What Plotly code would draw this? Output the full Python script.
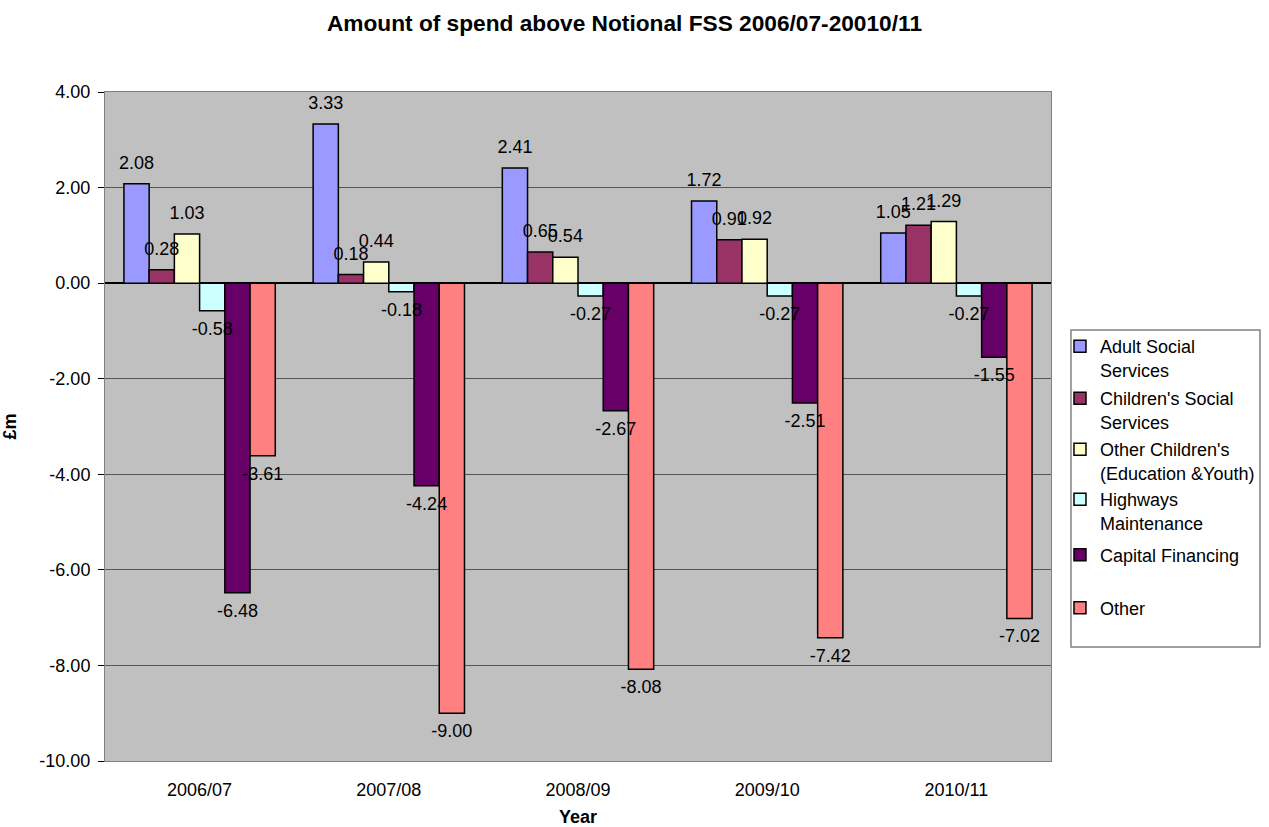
import plotly.graph_objects as go

years = ["2006/07", "2007/08", "2008/09", "2009/10", "2010/11"]
series_names = [
    "Adult Social<br>Services",
    "Children's Social<br>Services",
    "Other Children's<br>(Education &Youth)",
    "Highways<br>Maintenance",
    "Capital Financing",
    "Other",
]
adult = [2.08, 3.33, 2.41, 1.72, 1.05]
children_ss = [0.28, 0.18, 0.65, 0.91, 1.21]
other_children = [1.03, 0.44, 0.54, 0.92, 1.29]
highways = [-0.58, -0.18, -0.27, -0.27, -0.27]
capital = [-6.48, -4.24, -2.67, -2.51, -1.55]
other = [-3.61, -9.00, -8.08, -7.42, -7.02]
values = [adult, children_ss, other_children, highways, capital, other]
colors = ["#9999FF", "#993366", "#FFFFCC", "#CCFFFF", "#660066", "#FF8080"]
y_ticks = [4, 2, 0, -2, -4, -6, -8, -10]
y_ticktext = [f"{v:.2f}" for v in y_ticks]

FONT = "Arial, Liberation Sans, sans-serif"
BARGAP = 0.20

# legend item vertical centres (paper fraction) - one legend per entry
legend_y = [0.6024, 0.5247, 0.4484, 0.3737, 0.3079, 0.2287]
legend_ids = ["legend", "legend2", "legend3", "legend4", "legend5", "legend6"]

fig = go.Figure()
for i, (name, vals, col) in enumerate(zip(series_names, values, colors)):
    fig.add_trace(go.Bar(
        x=years, y=vals, name=name,
        offsetgroup=str(i),
        legend=legend_ids[i],
        marker=dict(color=col, line=dict(color="black", width=1.5)),
        hoverinfo="x+y",
    ))
for i, vals in enumerate(values):
    fig.add_trace(go.Scatter(
        x=years, y=vals, mode="markers+text",
        offsetgroup=str(i),
        marker=dict(size=15, color="rgba(0,0,0,0)"),
        text=[f"{v:.2f}" for v in vals],
        textposition=["top center" if v >= 0 else "bottom center" for v in vals],
        textfont=dict(family=FONT, size=18, color="black"),
        cliponaxis=False, showlegend=False, hoverinfo="skip",
    ))

layout_legends = {}
for lid, ly in zip(legend_ids, legend_y):
    layout_legends[lid] = dict(
        x=1.0095, xanchor="left", y=ly, yanchor="middle",
        valign="top",
        borderwidth=0, bgcolor="rgba(0,0,0,0)",
        font=dict(family=FONT, size=18, color="black"),
    )

fig.update_layout(
    width=1269, height=827,
    paper_bgcolor="white",
    plot_bgcolor="#C0C0C0",
    barmode="group",
    bargap=BARGAP,
    bargroupgap=0,
    scattermode="group",
    scattergap=BARGAP,
    margin=dict(l=105, r=218, t=92, b=66, autoexpand=False),
    font=dict(family=FONT, size=18, color="black"),
    title=dict(
        text="<b>Amount of spend above Notional FSS 2006/07-20010/11</b>",
        x=0.4921, xanchor="center", y=0.972, yanchor="middle",
        font=dict(family=FONT, size=22.7, color="black"),
    ),
    showlegend=True,
    shapes=[dict(
        type="rect", xref="paper", yref="paper",
        x0=1.0211, x1=1.2209, y0=0.1704, y1=0.6442,
        line=dict(color="#808080", width=1.5), fillcolor="rgba(0,0,0,0)",
        layer="below",
    )],
    **layout_legends,
)
fig.update_xaxes(
    showline=True, linecolor="#808080", linewidth=1, mirror=True,
    ticks="", tickfont=dict(family=FONT, size=18), ticklabelstandoff=12,
    title=dict(text="<b>Year</b>", font=dict(family=FONT, size=18), standoff=15),
)
fig.update_yaxes(
    range=[-10, 4], tickvals=y_ticks, ticktext=y_ticktext,
    showline=True, linecolor="#808080", linewidth=1, mirror=True,
    ticks="outside", ticklen=6, tickcolor="black",
    showgrid=True, gridcolor="#555555", gridwidth=1,
    zeroline=True, zerolinecolor="black", zerolinewidth=1.5,
    tickfont=dict(family=FONT, size=18), ticklabelstandoff=4,
    title=dict(text="<b>£m</b>", font=dict(family=FONT, size=18), standoff=18),
)

fig.write_html("out.html")
